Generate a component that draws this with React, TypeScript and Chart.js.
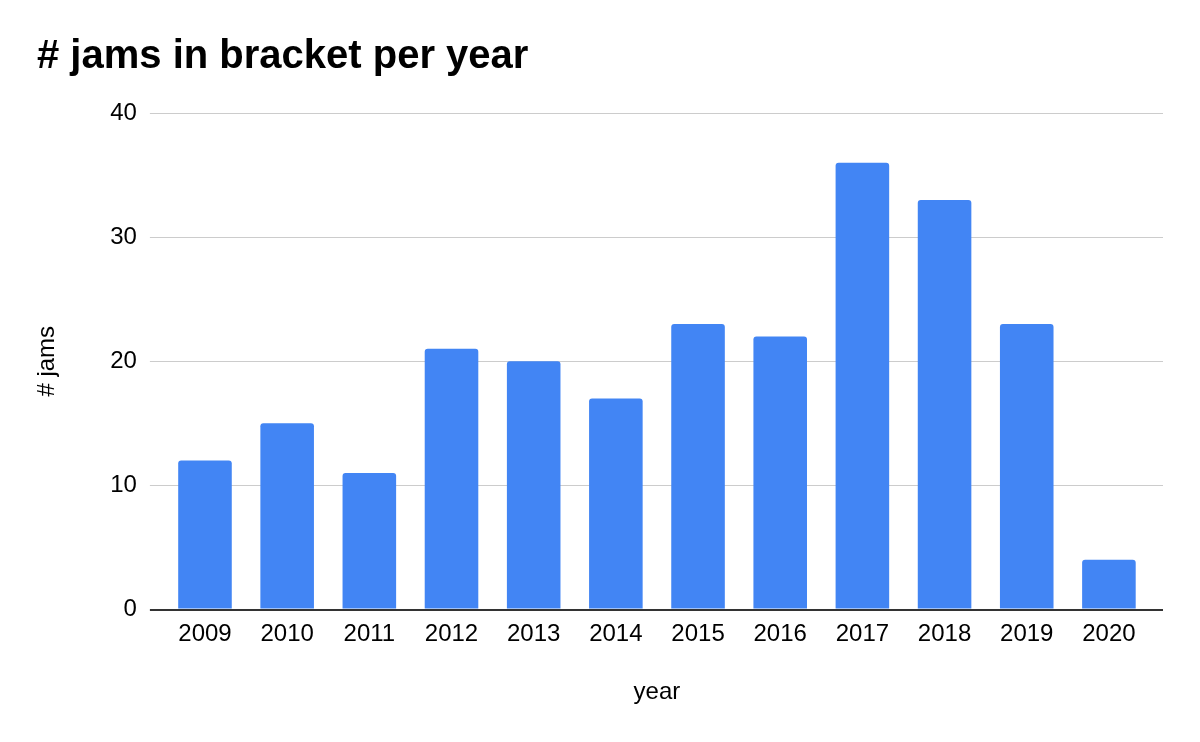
import React, { useEffect, useRef } from "react";
import { Chart, registerables } from "chart.js";

Chart.register(...registerables);

const chartTitle = "# jams in bracket per year";
const xAxisTitle = "year";
const yAxisTitle = "# jams";
const years = ["2009", "2010", "2011", "2012", "2013", "2014", "2015", "2016", "2017", "2018", "2019", "2020"];
const jams = [12, 15, 11, 21, 20, 17, 23, 22, 36, 33, 23, 4];
const yMin = 0;
const yMax = 40;
const yStep = 10;

const FONT = "'Liberation Sans', Arial, Helvetica, sans-serif";
const gridColor = (ctx: any) => (ctx.tick && ctx.tick.value === 0 ? "#333333" : "#cccccc");
const gridWidth = (ctx: any) => (ctx.tick && ctx.tick.value === 0 ? 2 : 1);

export default function App() {
  const ref = useRef<HTMLCanvasElement | null>(null);

  useEffect(() => {
    document.body.style.margin = "0";
    const canvas = ref.current;
    if (!canvas) return;
    const chart = new Chart(canvas, {
      type: "bar",
      data: {
        labels: years,
        datasets: [
          {
            label: yAxisTitle,
            data: jams,
            backgroundColor: "#4285F4",
            borderWidth: 0,
            borderRadius: 3,
            borderSkipped: "start",
            categoryPercentage: 1,
            barPercentage: 0.652,
          },
        ],
      },
      options: {
        responsive: false,
        animation: false,
        devicePixelRatio: 1,
        layout: { padding: { left: 37, right: 37, top: 0, bottom: 0 } },
        plugins: {
          legend: { display: false },
          tooltip: { enabled: false },
          title: {
            display: true,
            text: chartTitle,
            align: "start",
            color: "#000000",
            font: { family: FONT, size: 40, weight: "bold", lineHeight: 1.2 },
            padding: { top: 33, bottom: 32 },
          },
        },
        scales: {
          x: {
            grid: { display: false },
            border: { display: false },
            ticks: {
              color: "#000000",
              font: { family: FONT, size: 24, lineHeight: 1.2 },
              padding: 2.5,
              maxRotation: 0,
              autoSkip: false,
            },
            title: {
              display: true,
              text: xAxisTitle,
              color: "#000000",
              font: { family: FONT, size: 24, lineHeight: 1.2 },
              padding: { top: 27, bottom: 34.9 },
            },
          },
          y: {
            position: "left",
            min: yMin,
            max: yMax,
            border: { display: false },
            grid: {
              color: gridColor,
              lineWidth: gridWidth,
              drawTicks: true,
              tickLength: 14,
            },
            ticks: {
              stepSize: yStep,
              color: "#000000",
              font: { family: FONT, size: 24, lineHeight: 1.2 },
              padding: 13,
            },
            title: {
              display: true,
              text: yAxisTitle,
              color: "#000000",
              font: { family: FONT, size: 24, lineHeight: 1.2 },
              padding: { top: -4, bottom: 35.4 },
            },
          },
          y2: {
            position: "right",
            min: yMin,
            max: yMax,
            border: { display: false },
            grid: {
              color: gridColor,
              lineWidth: gridWidth,
              drawOnChartArea: false,
              drawTicks: true,
              tickLength: 13,
            },
            ticks: { stepSize: yStep, display: false },
          },
        },
      },
    } as any);
    return () => chart.destroy();
  }, []);

  return (
    <div style={{ position: "absolute", left: 0, top: 0, width: 1200, height: 742, background: "#ffffff" }}>
      <canvas ref={ref} width={1200} height={742} />
    </div>
  );
}
